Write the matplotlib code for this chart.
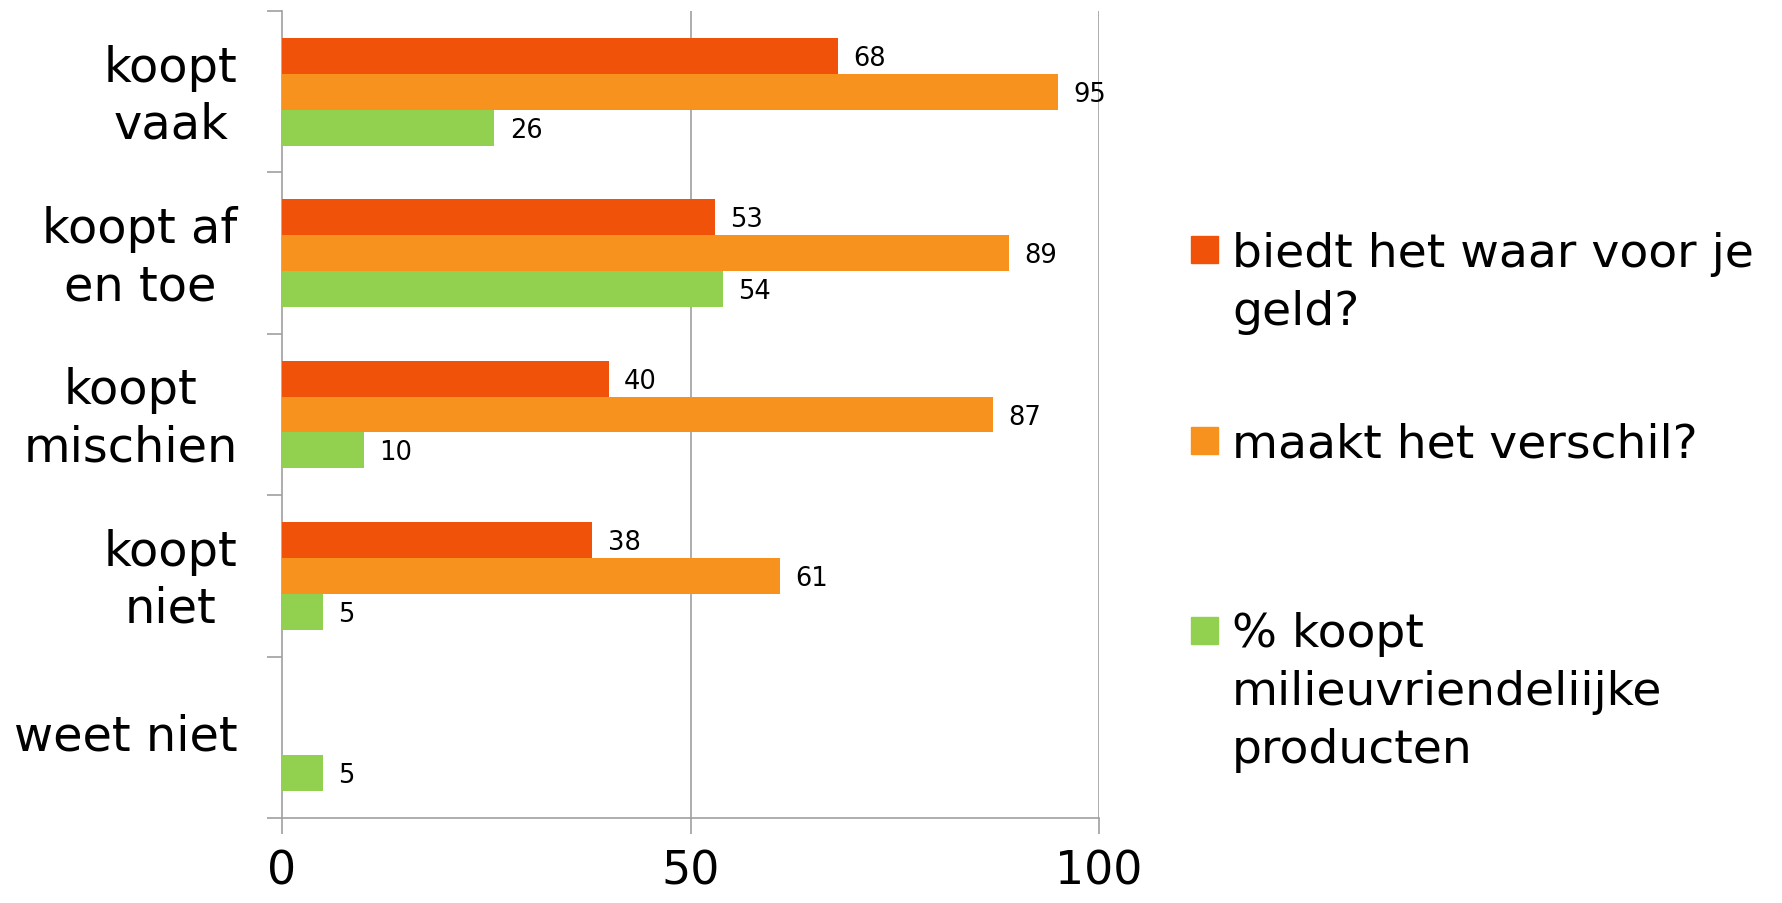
import matplotlib
matplotlib.use("Agg")
import matplotlib.pyplot as plt
from matplotlib.patches import Rectangle
from matplotlib.transforms import ScaledTranslation
import numpy as np

plt.rcParams['font.family'] = ['DejaVu Sans']

categories = ["koopt\nvaak", "koopt af\nen toe", "koopt\nmischien", "koopt\nniet", "weet niet"]
series_names = ["biedt het waar voor je\ngeld?", "maakt het verschil?",
                "% koopt\nmilieuvriendeliijke\nproducten"]
waar_voor_geld = [68, 53, 40, 38, None]
maakt_verschil = [95, 89, 87, 61, None]
koopt_milieu = [26, 54, 10, 5, 5]
x_ticks = [0, 50, 100]

colors = ["#F0520A", "#F7921E", "#92D050"]
series = [waar_voor_geld, maakt_verschil, koopt_milieu]

W, H = 1783, 904
fig = plt.figure(figsize=(W / 100, H / 100), dpi=100)
ax = fig.add_axes([282 / W, 1 - 819 / H, (1099 - 282) / W, (819 - 12) / H])

n = len(categories)
h = 1 / 4.5
offsets = [-h, 0, h]
for vals, col, off in zip(series, colors, offsets):
    idx = [i for i, v in enumerate(vals) if v is not None]
    ys = [i + off for i in idx]
    vs = [vals[i] for i in idx]
    ax.barh(ys, vs, height=h, color=col, zorder=3)
    for y, v in zip(ys, vs):
        ax.annotate(str(v), xy=(v, y), xytext=(11, -1.5), textcoords="offset points",
                    va="center", ha="left", fontsize=18.5, color="black")

grey = "#A0A0A0"
ax.set_xlim(0, 100)
ax.set_ylim(n - 0.5, -0.5)
ax.set_xticks(x_ticks)
ax.set_xticklabels([str(t) for t in x_ticks], fontsize=33)
ax.set_yticks(range(n))
ax.set_yticklabels(categories, fontsize=34.5, ha="right", multialignment="center",
                   linespacing=1.27)
ax.set_yticks(np.arange(-0.5, n, 1.0), minor=True)
ax.tick_params(axis="y", which="major", length=0, pad=32)
ax.tick_params(axis="y", which="minor", length=11, width=1.2, color=grey, direction="out")
ax.tick_params(axis="x", which="major", length=11.5, width=1.2, color=grey, direction="out", pad=10.5)
shift_up = ScaledTranslation(0, 6 / 100, fig.dpi_scale_trans)
for lbl in ax.get_yticklabels():
    lbl.set_transform(lbl.get_transform() + shift_up)
for s in ["top", "right"]:
    ax.spines[s].set_visible(False)
for s in ["left", "bottom"]:
    ax.spines[s].set_color(grey)
    ax.spines[s].set_linewidth(1.2)
for xv in x_ticks[1:]:
    ax.axvline(xv, color=grey, linewidth=1.2, zorder=1)

# legend (drawn by hand to match the reference layout)
sq_tops = [237, 428, 618]
first_baselines = [267, 457, 647]
line_step = 58
for name, col, top, bl in zip(series_names, colors, sq_tops, first_baselines):
    fig.patches.append(Rectangle((1191 / W, 1 - (top + 27) / H), 27 / W, 27 / H,
                                 transform=fig.transFigure, color=col))
    for k, line in enumerate(name.split("\n")):
        fig.text(1232 / W, 1 - (bl + k * line_step) / H, line, fontsize=34,
                 va="baseline", ha="left")

fig.savefig("out.png", dpi=100, facecolor="white")
